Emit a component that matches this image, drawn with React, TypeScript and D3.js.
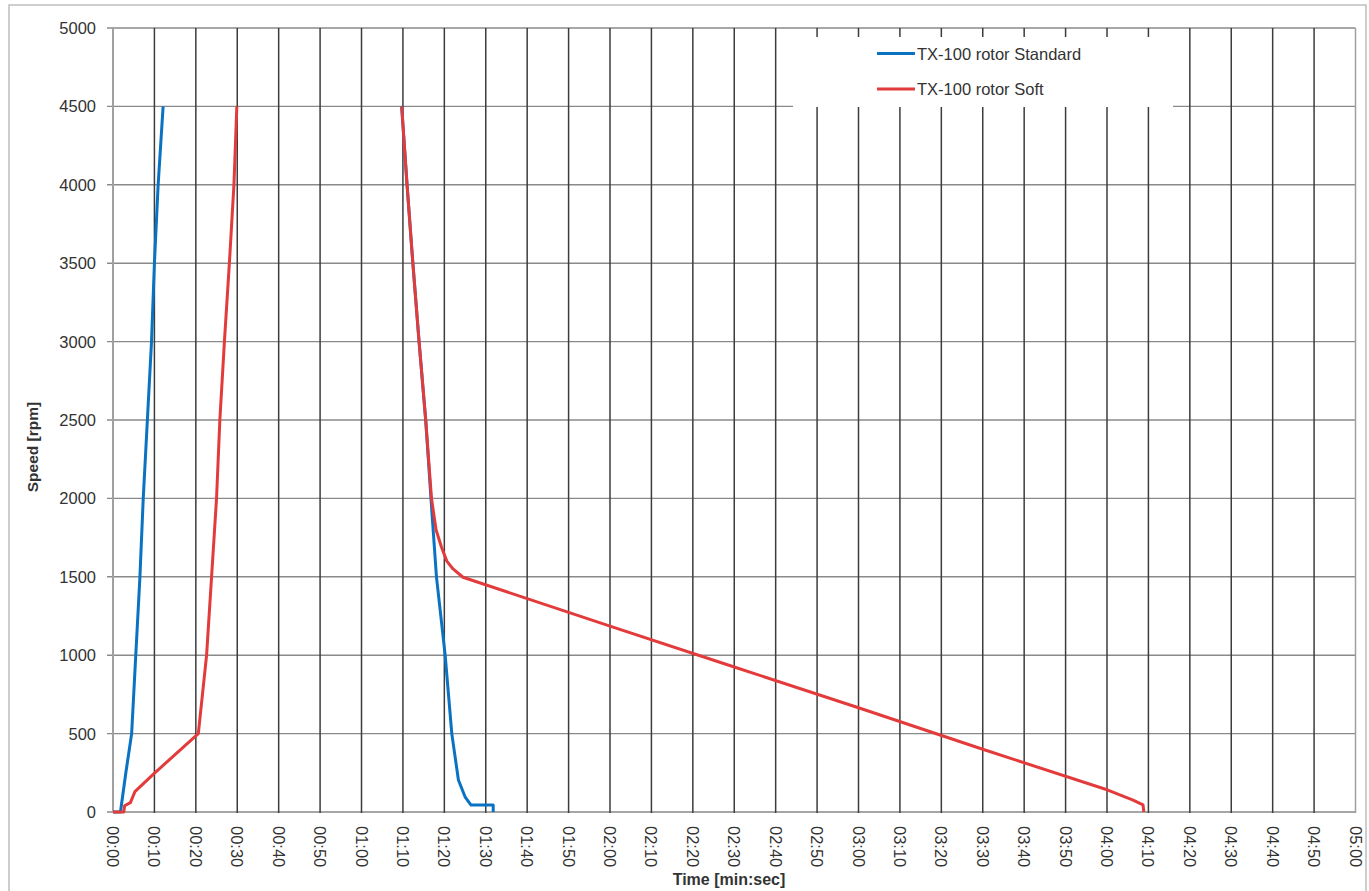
import React from "react";
import * as d3 from "d3";

// ---- Data (time in seconds, speed in rpm) ----
const standardUpTime = [0, 1.8, 3.1, 4.5, 5.5, 6.5, 7.3, 8.3, 9.3, 10.0, 10.9, 12.1];
const standardUpRpm = [0, 0, 250, 500, 1000, 1500, 2000, 2500, 3000, 3500, 4000, 4500];
const standardDownTime = [69.7, 71.0, 72.4, 73.9, 75.5, 76.9, 78.1, 80.2, 81.8, 83.4, 85.0, 86.4, 91.8, 91.8];
const standardDownRpm = [4500, 4000, 3500, 3000, 2500, 1950, 1500, 1000, 500, 204, 97, 45, 45, 0];

const softUpTime = [0, 2.6, 2.8, 4.2, 5.3, 9.7, 20.6, 22.6, 23.8, 25.0, 25.8, 26.9, 28.1, 29.2, 29.9];
const softUpRpm = [0, 0, 40, 60, 130, 240, 500, 1000, 1500, 2000, 2500, 3000, 3500, 4000, 4500];
const softDownTime = [69.7, 71.0, 72.4, 73.9, 75.5, 76.9, 78.0, 79.3, 80.6, 82.1, 84.5, 120, 150, 180, 210, 240.2, 246.3, 248.7, 248.9];
const softDownRpm = [4500, 4000, 3500, 3000, 2500, 2000, 1800, 1690, 1600, 1550, 1497, 1185, 925, 665, 400, 140, 76, 45, 0];

const yTicks = [0, 500, 1000, 1500, 2000, 2500, 3000, 3500, 4000, 4500, 5000];
const xTicks = d3.range(0, 301, 10);

const seriesNames = ["TX-100 rotor Standard", "TX-100 rotor Soft"];
const seriesColors = ["#0a72c2", "#e33b3b"];

const W = 1369;
const H = 891;
const plot = { left: 113, right: 1355.5, top: 28, bottom: 812 };

function fmt(t: number) {
  const m = Math.floor(t / 60);
  const s = t % 60;
  return `${String(m).padStart(2, "0")}:${String(s).padStart(2, "0")}`;
}

export default function App() {
  const x = d3.scaleLinear().domain([0, 300]).range([plot.left, plot.right]);
  const y = d3.scaleLinear().domain([0, 5000]).range([plot.bottom, plot.top]);
  const line = d3
    .line<[number, number]>()
    .x((d) => x(d[0]))
    .y((d) => y(d[1]));

  const zip = (t: number[], v: number[]) => t.map((tt, i) => [tt, v[i]] as [number, number]);

  const standardSegs = [zip(standardUpTime, standardUpRpm), zip(standardDownTime, standardDownRpm)];
  const softSegs = [zip(softUpTime, softUpRpm), zip(softDownTime, softDownRpm)];

  const font = "'Liberation Sans', Arial, sans-serif";
  const textColor = "#333";

  const legend = { x: 793, y: 37, w: 380, h: 70 };

  return (
    <svg
      width={W}
      height={H}
      style={{ position: "absolute", left: 0, top: 0, background: "#fff" }}
      fontFamily={font}
    >
      <rect x={0} y={0} width={W} height={H} fill="#fff" />
      <rect x={9} y={5} width={1357} height={H} fill="none" stroke="#bdbdbd" strokeWidth={1.5} />

      {/* horizontal gridlines */}
      {yTicks.map((v) => (
        <line
          key={"h" + v}
          x1={plot.left - 6}
          x2={plot.right}
          y1={y(v)}
          y2={y(v)}
          stroke={v === 0 ? "#a6a6a6" : "#8a8a8a"}
          strokeWidth={v === 0 ? 2 : 1.4}
        />
      ))}
      {/* vertical gridlines */}
      {xTicks.map((t) => (
        <line
          key={"v" + t}
          x1={x(t)}
          x2={x(t)}
          y1={plot.top}
          y2={plot.bottom + 1}
          stroke={t === 0 || t === 300 ? "#a0a0a0" : "#3c3c3c"}
          strokeWidth={t === 0 ? 2 : 1.5}
        />
      ))}

      {/* legend background */}
      <rect x={legend.x} y={legend.y} width={legend.w} height={legend.h} fill="#fff" />

      {/* series */}
      {standardSegs.map((s, i) => (
        <path key={"s" + i} d={line(s) || ""} fill="none" stroke={seriesColors[0]} strokeWidth={3} strokeLinejoin="round" />
      ))}
      {softSegs.map((s, i) => (
        <path key={"r" + i} d={line(s) || ""} fill="none" stroke={seriesColors[1]} strokeWidth={3} strokeLinejoin="round" />
      ))}

      {/* y tick labels */}
      {yTicks.map((v) => (
        <text
          key={"yl" + v}
          x={96}
          y={y(v)}
          textAnchor="end"
          dominantBaseline="central"
          fontSize={16.5}
          fill={textColor}
        >
          {v}
        </text>
      ))}

      {/* x tick labels */}
      {xTicks.map((t) => (
        <text
          key={"xl" + t}
          transform={`translate(${x(t)},${826}) rotate(90)`}
          textAnchor="start"
          dominantBaseline="central"
          fontSize={16.5}
          fill={textColor}
        >
          {fmt(t)}
        </text>
      ))}

      {/* axis titles */}
      <text
        transform={`translate(${32},${447}) rotate(-90)`}
        textAnchor="middle"
        dominantBaseline="central"
        fontSize={15.5}
        fontWeight="bold"
        fill={textColor}
      >
        Speed [rpm]
      </text>
      <text x={729} y={885} textAnchor="middle" fontSize={16} fontWeight="bold" fill={textColor}>
        Time [min:sec]
      </text>

      {/* legend */}
      {seriesNames.map((n, i) => {
        const ly = i === 0 ? 53.5 : 89;
        return (
          <g key={n}>
            <line x1={877} x2={915} y1={ly} y2={ly} stroke={seriesColors[i]} strokeWidth={3} />
            <text x={917} y={ly} dominantBaseline="central" fontSize={16.5} fill={textColor}>
              {n}
            </text>
          </g>
        );
      })}
    </svg>
  );
}
